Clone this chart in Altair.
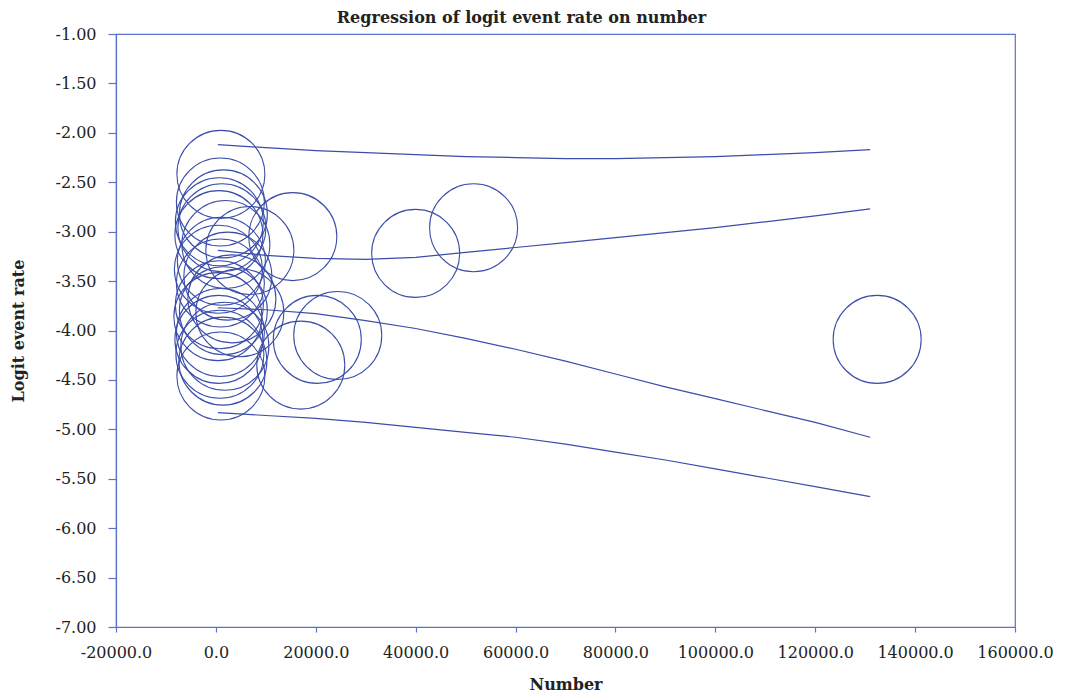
import altair as alt
import pandas as pd

# Studies: number of participants and logit event rate
study_number = [1000, 900, 1500, 700, 1200, 600, 6800, 2000, 1100, 500, 2400, 900,
                3200, 700, 1500, 4800, 400, 900, 600, 1800, 800, 1400, 1000,
                15400, 17000, 20300, 24400, 40000, 51600, 132400]
study_logit = [-2.42, -2.70, -2.82, -2.90, -2.96, -3.03, -3.19, -3.13, -3.30, -3.38, -3.45, -3.52,
               -3.68, -3.74, -3.80, -3.82, -3.86, -4.02, -4.09, -4.16, -4.24, -4.31, -4.46,
               -3.05, -4.35, -4.09, -4.05, -3.22, -2.96, -4.09]

# Confidence / prediction bands of the regression
band_x = [400, 10000, 20000, 30000, 40000, 50000, 60000, 70000, 80000, 90000,
          100000, 110000, 120000, 131000]
pred_upper = [-2.12, -2.15, -2.18, -2.20, -2.22, -2.24, -2.25, -2.26, -2.26, -2.25,
              -2.24, -2.22, -2.20, -2.17]
mean_upper = [-3.19, -3.24, -3.27, -3.28, -3.26, -3.21, -3.16, -3.11, -3.06, -3.01,
              -2.96, -2.90, -2.84, -2.77]
mean_lower = [-3.77, -3.79, -3.83, -3.90, -3.98, -4.08, -4.19, -4.31, -4.44, -4.57,
              -4.69, -4.81, -4.93, -5.08]
pred_lower = [-4.83, -4.86, -4.89, -4.93, -4.98, -5.03, -5.08, -5.15, -5.23, -5.31,
              -5.40, -5.49, -5.58, -5.68]

x_ticks = [-20000, 0, 20000, 40000, 60000, 80000, 100000, 120000, 140000, 160000]
y_ticks = [-1.0, -1.5, -2.0, -2.5, -3.0, -3.5, -4.0, -4.5, -5.0, -5.5, -6.0, -6.5, -7.0]

MARK = "#3B4DAA"
AXIS = "#5B72C8"
FONT = "DejaVu Serif"

studies = pd.DataFrame({"number": study_number, "logit": study_logit})
bands = pd.concat([
    pd.DataFrame({"number": band_x, "logit": vals, "band": name})
    for name, vals in [("pred_upper", pred_upper), ("mean_upper", mean_upper),
                       ("mean_lower", mean_lower), ("pred_lower", pred_lower)]
])

x_enc = alt.X("number:Q",
              scale=alt.Scale(domain=[-20000, 160000], nice=False, zero=False),
              axis=alt.Axis(values=x_ticks, title="Number",
                            labelOverlap=False, labelFlush=False,
                            labelExpr="replace(format(datum.value, '.1f'), '\u2212', '-')",
                            tickSize=5, labelPadding=12,
                            titleY=57, titleBaseline="middle"))
y_enc = alt.Y("logit:Q",
              scale=alt.Scale(domain=[-7, -1], nice=False, zero=False),
              axis=alt.Axis(values=y_ticks, title="Logit event rate",
                            labelOverlap=False, labelFlush=False,
                            labelExpr="replace(format(datum.value, '.2f'), '\u2212', '-')",
                            tickSize=8, labelPadding=12,
                            titleX=-98, titleBaseline="middle"))

circles = alt.Chart(studies).mark_point(
    shape="circle", filled=False, size=7744, strokeWidth=1.1, opacity=1, color=MARK
).encode(x=x_enc, y=y_enc)

lines = alt.Chart(bands).mark_line(color=MARK, strokeWidth=1.2).encode(
    x="number:Q", y="logit:Q", detail="band:N"
)

chart = (
    alt.layer(circles, lines)
    .properties(
        width=899, height=593,
        title=alt.TitleParams("Regression of logit event rate on number",
                              font=FONT, fontSize=16, fontWeight="bold",
                              color="#222222", dx=-44, offset=0),
        autosize=alt.AutoSizeParams(type="none"),
        padding={"left": 116, "top": 34, "right": 61, "bottom": 68},
    )
    .configure_view(stroke=AXIS, strokeWidth=1.2)
    .configure_axis(
        grid=False, domainColor=AXIS, tickColor=AXIS, domainWidth=1.2, tickWidth=1.2,
        labelFont=FONT, labelFontSize=16, labelColor="#222222",
        titleFont=FONT, titleFontSize=16, titleFontWeight="bold", titleColor="#222222",
    )
)

chart.save("out.html", embed_options={"renderer": "svg", "actions": False})
